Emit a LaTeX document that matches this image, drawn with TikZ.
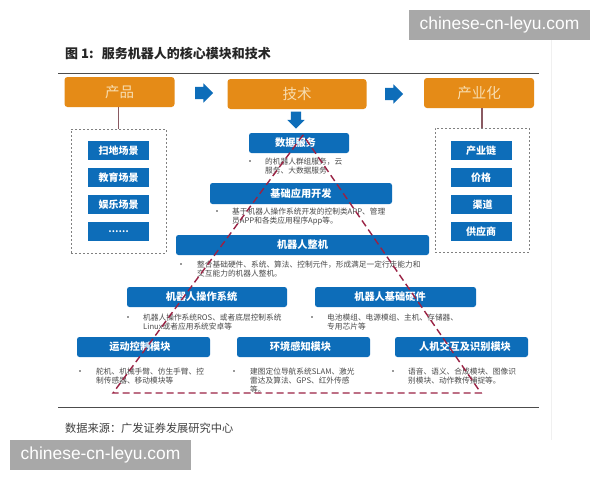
\documentclass[tikz,border=0pt]{standalone}
\usepackage{fontspec}
\setmainfont{Noto Sans CJK SC}
\newfontfamily\wmfont{Liberation Sans}
\usetikzlibrary{shapes.arrows}
\definecolor{bluebox}{HTML}{0D6DB9}
\definecolor{orangebox}{HTML}{E58B17}
\definecolor{orangetext}{HTML}{F7DDB0}
\definecolor{tri}{HTML}{9A2244}
\definecolor{stem}{HTML}{8A5A62}
\definecolor{desc}{HTML}{4A4A4A}
\definecolor{wmgray}{HTML}{A8A8A8}
\tikzset{
  x=1pt,y=-1pt,
  headbox/.style={rounded corners=3pt,fill=orangebox,text=orangetext,font=\fontsize{14.5}{16}\selectfont,inner sep=0pt},
  modbox/.style={rounded corners=2.5pt,fill=bluebox,text=white,font=\bfseries\fontsize{10.2}{12}\selectfont,inner sep=0pt},
  itembox/.style={fill=bluebox,text=white,font=\bfseries\fontsize{10}{12}\selectfont,inner sep=0pt,minimum width=61pt,minimum height=19pt},
  dashbox/.style={draw=black!50,line width=1pt,dash pattern=on 2pt off 2pt,inner sep=0pt},
  stemline/.style={draw=stem,line width=1.1pt},
  flow/.style={single arrow,fill=bluebox,inner xsep=0pt,inner ysep=6pt,minimum height=18pt,single arrow head extend=3.5pt,single arrow tip angle=90},
  desctext/.style={anchor=north west,align=left,text=desc,font=\fontsize{7.7}{9}\selectfont,inner sep=0pt},
  bulletmark/.style={circle,fill=black!80,inner sep=0pt,minimum size=1.8pt},
  rulemark/.style={draw=black!70,line width=0.8pt},
  triline/.style={draw=tri,line width=1.4pt,dash pattern=on 7pt off 4pt},
  watermark/.style={fill=wmgray,text=white,font=\wmfont\fontsize{17.4}{19}\selectfont,inner sep=0pt,minimum width=181pt,minimum height=30pt},
}
\begin{document}
\begin{tikzpicture}
\useasboundingbox (0,0) rectangle (600,480);
\fill[white] (0,0) rectangle (600,480);
\draw[black!6,line width=0.6pt] (551,40) -- (551,440);

\node[anchor=west,inner sep=0pt,text=black!85,font=\bfseries\fontsize{13}{14}\selectfont] (title) at (65,53) {图 1:\,\, 服务机器人的核心模块和技术};
\coordinate (ruleTopL) at (58,73); \coordinate (ruleTopR) at (539,73);
\draw[rulemark] (ruleTopL) -- (ruleTopR);
\coordinate (ruleBotL) at (58,407); \coordinate (ruleBotR) at (539,407);
\draw[rulemark] (ruleBotL) -- (ruleBotR);
\node[anchor=west,inner sep=0pt,text=black!75,font=\fontsize{11.2}{12}\selectfont] (source) at (65,428) {数据来源：广发证券发展研究中心};

% headers
\node[headbox,minimum width=110pt,minimum height=30pt] (prod) at (119.5,92) {产品};
\node[headbox,minimum width=139pt,minimum height=30pt] (tech) at (297,94) {技术};
\node[headbox,minimum width=110pt,minimum height=30pt] (indu) at (479,93) {产业化};
\node[flow] (a1) at (201,93) {};
\node[flow] (a2) at (391,94) {};
\node[flow,rotate=-90,minimum height=17pt,inner ysep=5pt] (a3) at (296,117.5) {};

% dashed groups
\node[dashbox,minimum width=95pt,minimum height=124pt] (gl) at (118.5,191) {};
\node[dashbox,minimum width=94pt,minimum height=124pt] (gr) at (482,190) {};
\draw[stemline] (prod.south -| gl.north) -- (gl.north);
\draw[stemline] (indu.south -| gr.north) -- (gr.north);

\node[itembox] (l1) at (118.5,150.5) {扫地场景};
\node[itembox] (l2) at (118.5,177.5) {教育场景};
\node[itembox] (l3) at (118.5,204.5) {娱乐场景};
\node[itembox,font=\bfseries\fontsize{9}{10}\selectfont] (l4) at (118.5,231.5) {……};
\node[itembox] (r1) at (481,150.5) {产业链};
\node[itembox] (r2) at (481,177.5) {价格};
\node[itembox] (r3) at (481,204.5) {\hspace*{3pt}渠道};
\node[itembox] (r4) at (481,231.5) {供应商};

% modules
\node[modbox,minimum width=100pt,minimum height=20pt] (m1) at (299,143) {数据服务\hspace*{7pt}};
\node[modbox,minimum width=182pt,minimum height=21pt] (m2) at (301,193.5) {基础应用开发};
\node[modbox,minimum width=253pt,minimum height=20pt] (m3) at (302.5,245) {机器人整机};
\node[modbox,minimum width=160pt,minimum height=20pt] (m4) at (207,297) {机器人操作系统\hspace*{11pt}};
\node[modbox,minimum width=161pt,minimum height=20pt] (m5) at (395.5,297) {机器人基础硬件\hspace*{11pt}};
\node[modbox,minimum width=133pt,minimum height=20pt] (m6) at (143.5,347) {运动控制模块\hspace*{7pt}};
\node[modbox,minimum width=133pt,minimum height=20pt] (m7) at (303.5,347) {环境感知模块\hspace*{6pt}};
\node[modbox,minimum width=133pt,minimum height=20pt] (m8) at (461.5,347) {\hspace*{7pt}人机交互及识别模块};

% descriptions
\node[bulletmark] (b1) at (250,161) {};
\node[desctext] (d1) at (265,157.5) {的机器人群组服务，云\\服务、大数据服务};
\node[bulletmark] (b2) at (217,211) {};
\node[desctext] (d2) at (232,207.5) {基于机器人操作系统开发的控制类APP、管理\\员APP和各类应用程序App等。};
\node[bulletmark] (b3) at (181,264) {};
\node[desctext] (d3) at (197,260.5) {整合基础硬件、系统、算法、控制元件，形成满足一定行走能力和\\交互能力的机器人整机。};
\node[bulletmark] (b4) at (128,317) {};
\node[desctext] (d4) at (143,313.5) {机器人操作系统ROS、或者底层控制系统\\Linux或者应用系统安卓等};
\node[bulletmark] (b5) at (312,317) {};
\node[desctext] (d5) at (327,313.5) {电池模组、电源模组、主机、存储器、\\专用芯片等};
\node[bulletmark] (b6) at (80,371) {};
\node[desctext] (d6) at (96,367.5) {舵机、机械手臂、仿生手臂、控\\制传感器、移动模块等};
\node[bulletmark] (b7) at (234,371) {};
\node[desctext] (d7) at (250,367.5) {建图定位导航系统SLAM、激光\\雷达及算法、GPS、红外传感\\等。};
\node[bulletmark] (b8) at (393,371) {};
\node[desctext] (d8) at (408,367.5) {语音、语义、合成模块、图像识\\别模块、动作教传捕捉等。};

% triangle
\coordinate (tA) at (303,135);
\coordinate (tL) at (113,393);
\coordinate (tR) at (481,393);
\draw[triline] (tA) -- (tL) -- (tR) -- cycle;

% watermarks
\node[watermark] (w1) at (499.5,25) {chinese-cn-leyu.com};
\node[watermark] (w2) at (100.5,455) {chinese-cn-leyu.com};
\end{tikzpicture}
\end{document}
